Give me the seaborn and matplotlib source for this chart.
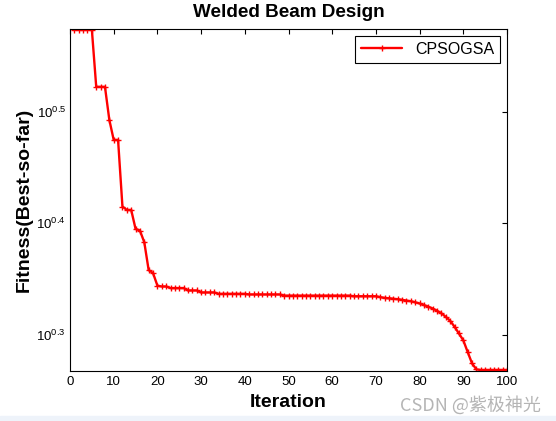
import pandas as pd
import matplotlib
matplotlib.use("Agg")
import matplotlib.pyplot as plt
from matplotlib.ticker import NullLocator
from matplotlib.patches import Rectangle
import seaborn as sns

sns.set_style("white")
plt.rcParams['font.family'] = ['Liberation Sans', 'DejaVu Sans']
plt.rcParams['mathtext.default'] = 'regular'
plt.rcParams['text.color'] = 'black'
plt.rcParams['axes.labelcolor'] = 'black'

# ----------------------------------
# data
# ----------------------------------
iterations = list(range(1, 101))
fitness = [
    3.748, 3.748, 3.748, 3.748, 3.748, 3.330, 3.330, 3.330, 3.110, 2.984,   # 1-10
    2.984, 2.600, 2.582, 2.582, 2.483, 2.474, 2.415, 2.280, 2.266, 2.208,   # 11-20
    2.204, 2.204, 2.197, 2.197, 2.197, 2.197, 2.186, 2.186, 2.186, 2.177,   # 21-30
    2.177, 2.177, 2.177, 2.171, 2.171, 2.171, 2.171, 2.171, 2.171, 2.171,   # 31-40
    2.168, 2.168, 2.168, 2.168, 2.168, 2.168, 2.168, 2.168, 2.163, 2.163,   # 41-50
    2.163, 2.163, 2.163, 2.163, 2.163, 2.163, 2.163, 2.163, 2.163, 2.163,   # 51-60
    2.163, 2.163, 2.163, 2.163, 2.160, 2.160, 2.160, 2.160, 2.160, 2.160,   # 61-70
    2.156, 2.153, 2.151, 2.149, 2.147, 2.144, 2.141, 2.138, 2.133, 2.128,   # 71-80
    2.121, 2.114, 2.106, 2.096, 2.085, 2.070, 2.053, 2.028, 2.000, 1.972,   # 81-90
    1.925, 1.880, 1.857, 1.855, 1.855, 1.855, 1.855, 1.855, 1.855, 1.855,   # 91-100
]
algo_name = "CPSOGSA"
ytick_vals = [10 ** 0.3, 10 ** 0.4, 10 ** 0.5]
ytick_labels = ["$10^{0.3}$", "$10^{0.4}$", "$10^{0.5}$"]

df = pd.DataFrame({"Iteration": iterations, "Fitness": fitness})

fig = plt.figure(figsize=(5.56, 4.21), dpi=100)
ax = fig.add_axes([70 / 556, 1 - 370.7 / 421, 437 / 556, 341.4 / 421])

sns.lineplot(data=df, x="Iteration", y="Fitness", color="red", linewidth=1.7,
             marker="+", markersize=4, markeredgewidth=1, markeredgecolor="red",
             label=algo_name, ax=ax)

ax.set_yscale("log")
ax.set_xlim(0, 100)
ax.set_ylim(1.852, 3.750)
ax.set_xticks(range(0, 101, 10))
ax.set_yticks(ytick_vals)
ax.set_yticklabels(ytick_labels)
ax.yaxis.set_minor_locator(NullLocator())

ax.tick_params(direction="in", top=True, right=True, length=3.6, width=0.8,
               labelsize=9.5, colors="black")
ax.tick_params(axis="x", pad=4)
ax.tick_params(axis="y", pad=3)
for sp in ax.spines.values():
    sp.set_color("black")
    sp.set_linewidth(0.8)

ax.set_title("Welded Beam Design", fontsize=13.6, fontweight="bold", pad=9)
ax.set_xlabel("Iteration", fontsize=14, fontweight="bold", labelpad=4)
ax.set_ylabel("Fitness(Best-so-far)", fontsize=14, fontweight="bold")
ax.yaxis.set_label_coords(-0.085, 0.5)

leg = ax.legend(loc="upper right", fontsize=11.5, frameon=True, fancybox=False,
                framealpha=1, edgecolor="black", handlelength=2.6,
                borderaxespad=0.45, borderpad=0.35)
leg.get_frame().set_linewidth(0.8)

# page strip and watermark
fig.patches.append(Rectangle((0, 0), 1, 5 / 421, transform=fig.transFigure,
                             color="#eef3fa", zorder=0))
fig.text(470 / 556, 1 - 405 / 421, "CSDN @紫极神光", ha="center", va="center",
         fontsize=13, color="#b5b5b5",
         family=["Noto Sans CJK SC", "DejaVu Sans"])

fig.savefig("out.png", dpi=100)
